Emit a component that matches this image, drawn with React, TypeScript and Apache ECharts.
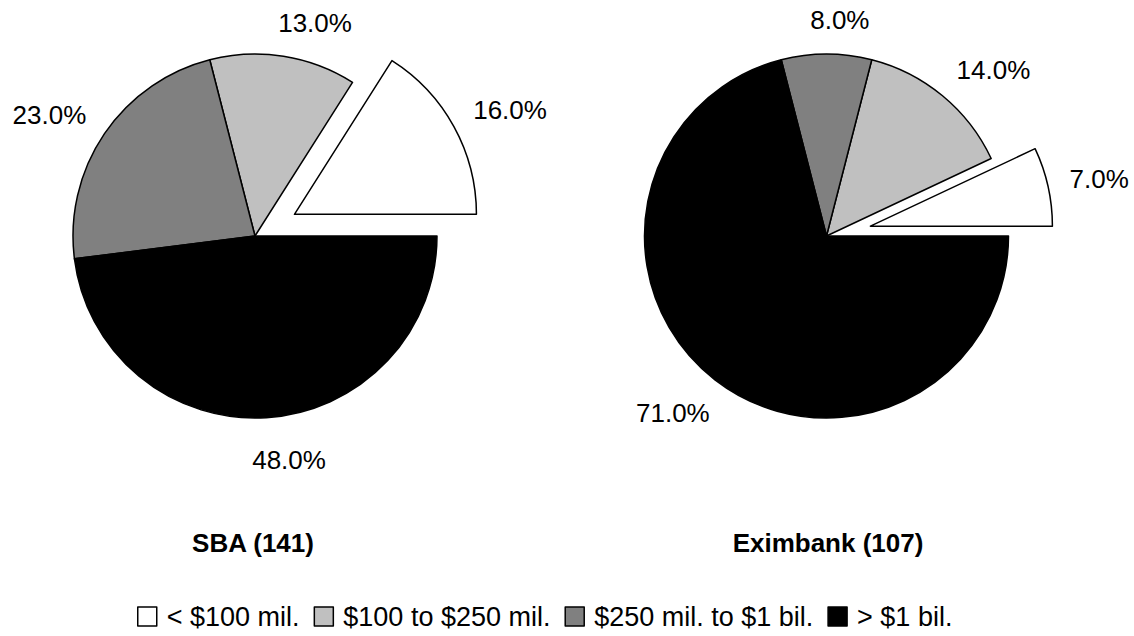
import { useEffect, useRef } from 'react';
import * as echarts from 'echarts';

// Share of loans by company size, per program (percent)
const sizeBands = ['< $100 mil.', '$100 to $250 mil.', '$250 mil. to $1 bil.', '> $1 bil.'];
const sbaShares = [16.0, 13.0, 23.0, 48.0];
const eximbankShares = [7.0, 14.0, 8.0, 71.0];
const bandColors = ['#ffffff', '#c0c0c0', '#808080', '#000000'];
const programTitles = ['SBA (141)', 'Eximbank (107)'];

const FONT = '"Liberation Sans", Arial, Helvetica, sans-serif';
const RADIUS = 182;
const EXPLODE = 45;
const LABEL_GAP = 22;
const EXPLODED_INDEX = 0;
const PIE_CENTERS: [number, number][] = [
  [255, 236],
  [826.5, 236],
];
const TITLE_X = [253, 828];

// Mid angle (radians, counter-clockwise from 3 o'clock) of slice i
function midAngle(shares: number[], i: number) {
  const total = shares.reduce((s, v) => s + v, 0);
  let before = 0;
  for (let k = 0; k < i; k++) before += shares[k];
  return ((before + shares[i] / 2) / total) * 2 * Math.PI;
}

// Places each percentage just outside its slice, leaning sideways like a spreadsheet pie.
function makeLabelLayout(shares: number[], cx: number, cy: number) {
  return (params: any) => {
    const mid = midAngle(shares, params.dataIndex);
    const ux = Math.cos(mid);
    const uy = -Math.sin(mid);
    const halfW = params.labelRect.width / 2;
    const lean = Math.max(-1, Math.min(1, 0.45 + 2 * ux));
    const halfH = uy > 0 ? 20 : 12;
    return {
      x: cx + (RADIUS + LABEL_GAP) * ux + halfW * lean,
      y: cy + (RADIUS + LABEL_GAP) * uy + halfH * uy,
      align: 'center',
      verticalAlign: 'middle',
    };
  };
}

const sliceBorder = { borderColor: '#000000', borderWidth: 1.5 };
const hiddenSlice = { color: 'rgba(0,0,0,0)', borderWidth: 0 };

// One layer of a pie: only the slices picked by `visible` are drawn, the rest keep their angle.
function pieLayer(shares: number[], center: [number, number], visible: (i: number) => boolean) {
  return {
    type: 'pie',
    center,
    radius: RADIUS,
    startAngle: 0,
    clockwise: false,
    avoidLabelOverlap: false,
    minShowLabelAngle: 0,
    silent: true,
    data: sizeBands.map((name, i) => ({
      name,
      value: shares[i],
      itemStyle: visible(i) ? { color: bandColors[i], ...sliceBorder } : hiddenSlice,
      label: { show: visible(i) },
    })),
    emphasis: { disabled: true },
    label: {
      show: true,
      position: 'outside',
      formatter: (p: any) => `${Number(p.value).toFixed(1)}%`,
      fontFamily: FONT,
      fontSize: 26,
      color: '#000000',
    },
    labelLine: { show: false },
    labelLayout: makeLabelLayout(shares, center[0], center[1]),
  };
}

function programPie(shares: number[], center: [number, number]) {
  const mid = midAngle(shares, EXPLODED_INDEX);
  const explodedCenter: [number, number] = [
    center[0] + EXPLODE * Math.cos(mid),
    center[1] - EXPLODE * Math.sin(mid),
  ];
  return [
    pieLayer(shares, center, (i) => i !== EXPLODED_INDEX),
    pieLayer(shares, explodedCenter, (i) => i === EXPLODED_INDEX),
  ];
}

export default function App() {
  const ref = useRef<HTMLDivElement>(null);

  useEffect(() => {
    if (!ref.current) return;
    const chart = echarts.init(ref.current, undefined, { renderer: 'svg' });
    chart.setOption({
      animation: false,
      backgroundColor: '#ffffff',
      title: programTitles.map((text, i) => ({
        text,
        left: TITLE_X[i],
        top: 530,
        textAlign: 'center',
        padding: 0,
        textStyle: { fontFamily: FONT, fontSize: 26, fontWeight: 'bold', color: '#000000' },
      })),
      legend: {
        data: sizeBands.map((name, i) => ({
          name,
          itemStyle: { color: bandColors[i], borderColor: '#000000', borderWidth: 1.5 },
        })),
        left: 137,
        top: 603,
        orient: 'horizontal',
        icon: 'rect',
        itemWidth: 19,
        itemHeight: 19,
        itemGap: 14,
        padding: 0,
        selectedMode: false,
        textStyle: { fontFamily: FONT, fontSize: 27, color: '#000000', padding: [0, 0, 0, 5] },
      },
      series: [...programPie(sbaShares, PIE_CENTERS[0]), ...programPie(eximbankShares, PIE_CENTERS[1])],
    });
    return () => chart.dispose();
  }, []);

  return (
    <div
      ref={ref}
      style={{ position: 'absolute', left: 0, top: 0, width: 1134, height: 636 }}
    />
  );
}
